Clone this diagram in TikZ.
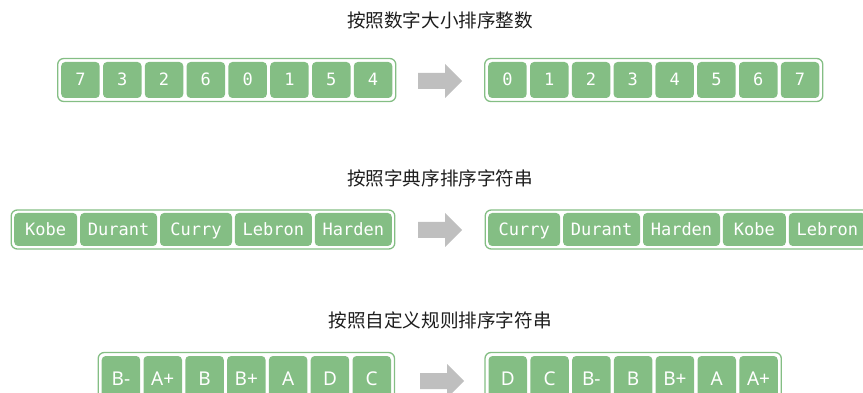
\documentclass[tikz,border=0pt]{standalone}
\usepackage{fontspec}
\newfontfamily\cjkfont{Noto Sans CJK SC}
\newfontfamily\monofont{DejaVu Sans Mono}
\newfontfamily\labelfont{Noto Sans}
\usetikzlibrary{positioning,fit}
\definecolor{cellgreen}{RGB}{132,190,132}
\definecolor{arrowgray}{RGB}{191,191,191}
\definecolor{titlegray}{RGB}{30,30,30}
\begin{document}
\begin{tikzpicture}[x=1pt,y=-1pt,
  cell/.style={rounded corners=4pt, fill=cellgreen, text=white, inner sep=0pt,
    minimum height=36pt, minimum width=38.5pt, text height=12pt, text depth=0pt,
    font=\monofont\fontsize{17}{19}\selectfont},
  wordcell/.style={cell, minimum height=33pt, minimum width=#1, text height=12.5pt},
  gradecell/.style={cell, minimum height=45pt, text height=13.5pt,
    font=\labelfont\fontsize{19}{21}\selectfont},
  frame/.style={draw=cellgreen, line width=1.3pt, rounded corners=6pt, inner sep=3.3pt},
  title/.style={font=\cjkfont\fontsize{18.6}{21}\selectfont, text=titlegray},
  bigarrow/.pic={\fill[arrowgray] (0,-8) -- (27,-8) -- (27,-17) -- (44,0) -- (27,17) -- (27,8) -- (0,8) -- cycle;}
]
\useasboundingbox (0,0) rectangle (863,393);
\clip (0,0) rectangle (863,393);

% titles
\node[title] (t1) at (440,20) {按照数字大小排序整数};
\node[title] (t2) at (440,178) {按照字典序排序字符串};
\node[title] (t3) at (440,320) {按照自定义规则排序字符串};

% row 1 left
\node[cell, anchor=west] (a1) at (61,80) {7};
\node[cell, right=2.9pt of a1] (a2) {3};
\node[cell, right=2.9pt of a2] (a3) {2};
\node[cell, right=2.9pt of a3] (a4) {6};
\node[cell, right=2.9pt of a4] (a5) {0};
\node[cell, right=2.9pt of a5] (a6) {1};
\node[cell, right=2.9pt of a6] (a7) {5};
\node[cell, right=2.9pt of a7] (a8) {4};
\node[frame, fit=(a1)(a8)] (fa) {};
\pic (arrA) at (418,81) {bigarrow};
% row 1 right
\node[cell, anchor=west] (b1) at (488,80) {0};
\node[cell, right=2.9pt of b1] (b2) {1};
\node[cell, right=2.9pt of b2] (b3) {2};
\node[cell, right=2.9pt of b3] (b4) {3};
\node[cell, right=2.9pt of b4] (b5) {4};
\node[cell, right=2.9pt of b5] (b6) {5};
\node[cell, right=2.9pt of b6] (b7) {6};
\node[cell, right=2.9pt of b7] (b8) {7};
\node[frame, fit=(b1)(b8)] (fb) {};

% row 2 left
\node[wordcell=63pt, anchor=west] (c1) at (14,229.5) {Kobe};
\node[wordcell=77pt, right=2.5pt of c1] (c2) {Durant};
\node[wordcell=72pt, right=2.5pt of c2] (c3) {Curry};
\node[wordcell=77pt, right=2.5pt of c3] (c4) {Lebron};
\node[wordcell=77pt, right=2.5pt of c4] (c5) {Harden};
\node[frame, inner sep=2.8pt, fit=(c1)(c5)] (fc) {};
\pic (arrB) at (418,230) {bigarrow};
% row 2 right
\node[wordcell=72pt, anchor=west] (d1) at (488,229.5) {Curry};
\node[wordcell=77pt, right=2.5pt of d1] (d2) {Durant};
\node[wordcell=77pt, right=2.5pt of d2] (d3) {Harden};
\node[wordcell=63pt, right=2.5pt of d3] (d4) {Kobe};
\node[wordcell=77pt, right=2.5pt of d4] (d5) {Lebron};
\node[frame, inner sep=2.8pt, fit=(d1)(d5)] (fd) {};

% row 3 left
\node[gradecell, anchor=west] (e1) at (101.5,378.5) {B-};
\node[gradecell, right=2.9pt of e1] (e2) {A+};
\node[gradecell, right=2.9pt of e2] (e3) {B};
\node[gradecell, right=2.9pt of e3] (e4) {B+};
\node[gradecell, right=2.9pt of e4] (e5) {A};
\node[gradecell, right=2.9pt of e5] (e6) {D};
\node[gradecell, right=2.9pt of e6] (e7) {C};
\node[frame, fit=(e1)(e7)] (fe) {};
\pic (arrC) at (420,381) {bigarrow};
% row 3 right
\node[gradecell, anchor=west] (g1) at (488.3,378.5) {D};
\node[gradecell, right=2.9pt of g1] (g2) {C};
\node[gradecell, right=2.9pt of g2] (g3) {B-};
\node[gradecell, right=2.9pt of g3] (g4) {B};
\node[gradecell, right=2.9pt of g4] (g5) {B+};
\node[gradecell, right=2.9pt of g5] (g6) {A};
\node[gradecell, right=2.9pt of g6] (g7) {A+};
\node[frame, fit=(g1)(g7)] (fg) {};
\end{tikzpicture}
\end{document}
